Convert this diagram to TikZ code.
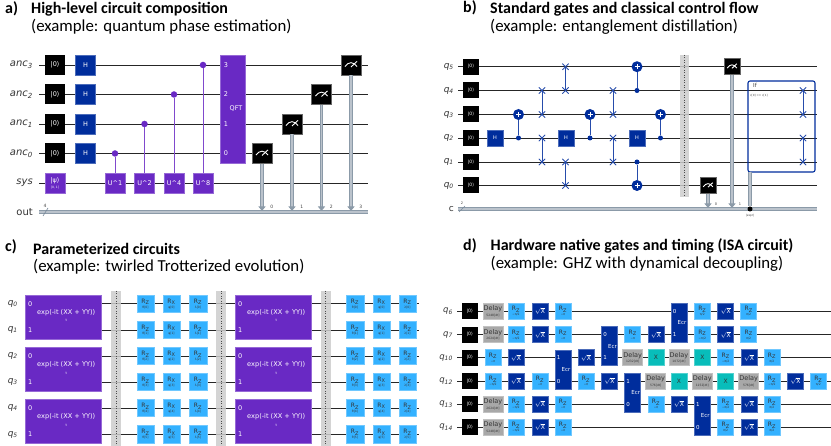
\documentclass[tikz,border=0pt]{standalone}
\usepackage{amsmath}
\usepackage{fontspec}
\setmainfont{DejaVu Sans}
\newfontfamily\titlefont{Carlito}
\usetikzlibrary{arrows.meta,shapes.misc}

\definecolor{qpurple}{HTML}{6929C4}
\definecolor{qnavy}{HTML}{002D9C}
\definecolor{qsky}{HTML}{33B1FF}
\definecolor{qteal}{HTML}{08BDBA}
\definecolor{qgrey}{HTML}{A8A8A8}
\definecolor{qclassic}{HTML}{778899}

\newcommand{\fsz}[1]{\fontsize{#1}{#1}\selectfont}
\newcommand{\rtext}[2]{R\textsubscript{#1}\\[-1pt]{\fsz{3}#2}}
\newcommand{\dtext}[1]{Delay\\[-1pt]{\fsz{3}#1[dt]}}
\newcommand{\sxtext}{$\sqrt{\text{X}}$}
\newcommand{\mpih}{−π/2}
\newcommand{\mpif}{−π}
\newcommand{\ppih}{π/2}

\tikzstyle{wire} = [draw=black!85, line width=0.8pt]
\tikzstyle{classic} = [draw=qclassic!85, line width=0.9pt, double=qclassic!50, double distance=1.4pt]
\tikzstyle{feed} = [classic, -{Triangle[width=7pt,length=4.5pt]}]
\tikzstyle{qlabel} = [anchor=east, inner sep=0pt, text=black!80]
\tikzstyle{tiny} = [inner sep=0pt, text=black!75]
\tikzstyle{title} = [anchor=west, inner sep=0pt, font=\titlefont\fsz{16}\bfseries]
\tikzstyle{subtitle} = [anchor=west, inner sep=0pt, font=\titlefont\fsz{16.8}]
\tikzstyle{gate} = [rectangle, inner sep=0pt, align=center, line width=0.5pt]
\tikzstyle{init} = [gate, fill=black, text=white]
\tikzstyle{navy} = [gate, fill=qnavy, draw=qnavy!70!white, text=white]
\tikzstyle{purple} = [gate, fill=qpurple, draw=qpurple!70!white, text=white]
\tikzstyle{sky} = [gate, fill=qsky, draw=qsky!70!white, text=black!80]
\tikzstyle{delay} = [gate, fill=qgrey, draw=qgrey!70!white, text=black!80]
\tikzstyle{teal} = [gate, fill=qteal, draw=qteal!70!white, text=black!80]
\tikzstyle{barrier} = [rectangle, inner sep=0pt, fill=black!20, fill opacity=0.85]
\tikzset{meter/.style={rectangle, inner sep=0pt, minimum size=#1, fill=black, draw=black!60, line width=0.4pt, path picture={
    \begin{scope}[shift={(path picture bounding box.center)}]
        \draw[white, line width=0.9pt] (-0.3*#1,0.08*#1) .. controls (-0.12*#1,-0.18*#1) and (0.12*#1,-0.18*#1) .. (0.3*#1,0.08*#1);
        \draw[white, line width=0.9pt] (0,0.1*#1) -- (0.3*#1,-0.18*#1);
    \end{scope}}}}
\tikzstyle{dot} = [circle, inner sep=0pt, minimum size=5pt, fill=qnavy]
\tikzstyle{target} = [circle, inner sep=0pt, minimum size=11pt, fill=qnavy, path picture={
    \draw[white, line width=0.9pt] ([yshift=-2.5pt]path picture bounding box.center) -- ([yshift=2.5pt]path picture bounding box.center);
    \draw[white, line width=0.9pt] ([xshift=-2.5pt]path picture bounding box.center) -- ([xshift=2.5pt]path picture bounding box.center);}]
\tikzstyle{swapx} = [cross out, draw=qnavy!85, line width=0.8pt, inner sep=0pt, minimum size=5.5pt]
\tikzstyle{bline} = [draw=qnavy!85, line width=0.8pt]
\tikzstyle{pline} = [draw=qpurple!85, line width=0.9pt]

\begin{document}
\begin{tikzpicture}[x=1pt,y=-1pt]
    \useasboundingbox (0,0) rectangle (831,446);

    % panel a
    \node (a-tag) [title] at (5,9) {a)};
    \node (a-title) [title] at (31,9) {High-level circuit composition};
    \node (a-sub) [subtitle] at (31,27) {(example: quantum phase estimation)};

    \foreach \n/\y/\t in {3/65/anc\textsubscript{3}, 2/94.5/anc\textsubscript{2}, 1/124/anc\textsubscript{1}, 0/153.5/anc\textsubscript{0}, 4/183/sys} {
        \coordinate (a-l\n) at (39,\y);
        \coordinate (a-r\n) at (368,\y);
        \draw[wire] (a-l\n) -- (a-r\n);
        \node (a-lab\n) [qlabel, font=\fsz{10}\itshape] at (33,\y) {\t};
    }
    \coordinate (a-outl) at (39,212);
    \coordinate (a-outr) at (368,212);
    \draw[classic] (a-outl) -- (a-outr);
    \node (a-out) [qlabel, font=\fsz{10}] at (33,212) {out};
    \coordinate (a-sa) at (43,216);
    \coordinate (a-sb) at (48,208);
    \draw[draw=qclassic, line width=0.6pt] (a-sa) -- (a-sb);
    \node (a-four) [tiny, font=\fsz{4.5}] at (45,206) {4};

    \foreach \n/\y in {3/65, 2/94.5, 1/124, 0/153.5} {
        \node (a-i\n) [init, minimum size=20pt, font=\fsz{6.5}] at (55,\y) {|0⟩};
        \node (a-h\n) [navy, minimum size=20pt, font=\fsz{6.5}] at (85.5,\y) {H};
    }
    \node (a-psi) [purple, minimum size=20pt, font=\fsz{6.5}] at (55,183) {|ψ⟩\\[-1pt]{\fsz{3}[0, 1]}};

    \foreach \n/\x/\y/\t in {0/115/153.5/1, 1/144.5/124/2, 2/174/94.5/4, 3/203/65/8} {
        \node (a-u\n) [purple, minimum size=20pt, font=\fsz{6.5}] at (\x,183) {U\^{}\t};
        \node (a-c\n) [circle, inner sep=0pt, minimum size=6.5pt, fill=qpurple] at (\x,\y) {};
        \draw[pline] (a-c\n) -- (a-u\n);
    }

    \node (a-qft) [purple, minimum width=24.5pt, minimum height=108pt, font=\fsz{6.5}] at (232.7,109.5) {};
    \node (a-qftname) [inner sep=0pt, font=\fsz{6.5}, text=white] at (236,109) {QFT};
    \foreach \n/\y in {3/65, 2/94.5, 1/124, 0/153.5} {
        \node (a-q\n) [inner sep=0pt, font=\fsz{6.5}, text=white] at (226,\y) {\n};
    }

    \foreach \n/\x/\y in {0/262/153.5, 1/292/124, 2/321.5/94.5, 3/351/65} {
        \node (a-m\n) [meter=20] at (\x,\y) {};
        \coordinate (a-f\n) at (\x,211);
        \draw[feed] (a-m\n) -- (a-f\n);
        \node (a-b\n) [tiny, font=\fsz{4.5}] at (\x+9.7,206.5) {\n};
    }

    % panel b
    \node (b-tag) [title] at (463,8) {b)};
    \node (b-title) [title] at (490,9) {Standard gates and classical control flow};
    \node (b-sub) [subtitle] at (490,27) {(example: entanglement distillation)};

    \foreach \n/\y in {5/66.7, 4/90.5, 3/114.5, 2/138, 1/162, 0/185.5} {
        \coordinate (b-l\n) at (458,\y);
        \coordinate (b-r\n) at (817,\y);
        \draw[wire] (b-l\n) -- (b-r\n);
        \node (b-lab\n) [qlabel, font=\fsz{9}\itshape] at (454,\y) {q\textsubscript{\n}};
        \node (b-i\n) [init, minimum size=16pt, font=\fsz{4.5}] at (471,\y) {|0⟩};
    }
    \coordinate (b-cl) at (458,209);
    \coordinate (b-cr) at (817,209);
    \draw[classic] (b-cl) -- (b-cr);
    \node (b-c) [qlabel, font=\fsz{9}] at (454,209) {c};
    \coordinate (b-sa) at (459,212);
    \coordinate (b-sb) at (465,206);
    \draw[draw=qclassic, line width=0.6pt] (b-sa) -- (b-sb);
    \node (b-two) [tiny, font=\fsz{3.5}] at (462,203.5) {2};

    \foreach \n/\x in {1/495, 2/566, 3/637} {
        \node (b-h\n) [navy, minimum size=16pt, font=\fsz{5}] at (\x,138) {H};
    }
    \foreach \n/\x/\t/\c in {1/518.5/114.5/138, 2/590/114.5/138, 3/637/66.7/90.5, 4/637/185.5/162, 5/660.5/114.5/138} {
        \node (b-x\n) [target] at (\x,\t) {};
        \node (b-d\n) [dot] at (\x,\c) {};
        \draw[bline] (b-x\n) -- (b-d\n);
    }
    \foreach \n/\x/\s/\e in {1/542/90.5/114.5, 2/542/138/162, 3/565.5/66.7/90.5, 4/565.5/162/185.5, 5/613/90.5/114.5, 6/613/138/162, 7/803/90.5/114.5, 8/803/138/162} {
        \node (b-sa\n) [swapx] at (\x,\s) {};
        \node (b-sb\n) [swapx] at (\x,\e) {};
        \draw[bline] (b-sa\n.center) -- (b-sb\n.center);
    }

    \node (b-bar) [barrier, minimum width=9pt, minimum height=142pt] at (684.5,126) {};
    \draw[dotted, black!70, line width=0.5pt] (b-bar.north) -- (b-bar.south);

    \node (b-m0) [meter=16] at (708,185.5) {};
    \node (b-m1) [meter=16] at (732,66.7) {};
    \coordinate (b-f0) at (708,208);
    \coordinate (b-f1) at (732,208);
    \draw[feed] (b-m0) -- (b-f0);
    \draw[feed] (b-m1) -- (b-f1);
    \node (b-b0) [tiny, font=\fsz{3.5}] at (716,204) {0};
    \node (b-b1) [tiny, font=\fsz{3.5}] at (740,204) {1};

    \node (b-if) [rectangle, rounded corners=2pt, draw=qnavy, line width=1.1pt, minimum width=67pt, minimum height=91pt] at (781.5,126.5) {};
    \node (b-iftxt) [tiny, font=\fsz{5.5}] at (755,85.5) {If};
    \node (b-ifcond) [tiny, anchor=west, font=\fsz{2.8}] at (750,95.5) {c[0] == c[1]};
    \coordinate (b-foot) at (750,172);
    \node (b-dot) [circle, inner sep=0pt, minimum size=5pt, fill=black] at (750,209) {};
    \draw[classic] (b-foot) -- (b-dot);
    \node (b-expr) [tiny, font=\fsz{2.8}] at (750,215.5) {[expr]};

    % panel c
    \node (c-tag) [title] at (5,247) {c)};
    \node (c-title) [title] at (33,249) {Parameterized circuits};
    \node (c-sub) [subtitle] at (33,267) {(example: twirled Trotterized evolution)};

    \foreach \n/\y in {0/303.7, 1/330, 2/356, 3/382, 4/408, 5/434.5} {
        \coordinate (c-l\n) at (25,\y);
        \coordinate (c-r\n) at (419,\y);
        \draw[wire] (c-l\n) -- (c-r\n);
        \node (c-lab\n) [qlabel, font=\fsz{9}\itshape] at (18,\y) {q\textsubscript{\n}};
    }
    \foreach \k/\x in {1/63.25, 2/273.25} {
        \foreach \r/\y/\t/\b in {1/317/303.7/330, 2/369/356/382, 3/421.5/408/434.5} {
            \node (c-e\k\r) [purple, minimum width=75.5pt, minimum height=44pt] at (\x,\y) {};
            \node (c-ez\k\r) [inner sep=0pt, font=\fsz{6.5}, text=white] at (\x-33,\t) {0};
            \node (c-eo\k\r) [inner sep=0pt, font=\fsz{6.5}, text=white] at (\x-33,\b) {1};
            \node (c-et\k\r) [inner sep=0pt, font=\fsz{6.6}, text=white] at (\x+3,\t+8.7) {exp(-it (XX + YY))};
            \node (c-es\k\r) [inner sep=0pt, font=\fsz{3.5}, text=white] at (\x+3,\t+17) {t};
        }
    }
    \foreach \k/\x in {1/116, 2/221, 3/325.5} {
        \node (c-bar\k) [barrier, minimum width=10pt, minimum height=155pt] at (\x,368.5) {};
        \draw[dotted, black!70, line width=0.5pt] (c-bar\k.north) -- (c-bar\k.south);
    }
    \foreach \k/\xa/\xb/\xc in {1/145.5/171.5/198, 2/355/381.5/407.5} {
        \foreach \n/\y in {0/303.7, 1/330, 2/356, 3/382, 4/408, 5/434.5} {
            \node (c-ra\k\n) [sky, minimum size=17.5pt, font=\fsz{6}] at (\xa,\y) {\rtext{Z}{θ[\n]}};
            \node (c-rb\k\n) [sky, minimum size=17.5pt, font=\fsz{6}] at (\xb,\y) {\rtext{X}{φ[\n]}};
            \node (c-rc\k\n) [sky, minimum size=17.5pt, font=\fsz{6}] at (\xc,\y) {\rtext{Z}{λ[\n]}};
        }
    }

    % panel d
    \node (d-tag) [title] at (463,246) {d)};
    \node (d-title) [title] at (490.5,246) {Hardware native gates and timing (ISA circuit)};
    \node (d-sub) [subtitle] at (490.5,264) {(example: GHZ with dynamical decoupling)};

    \foreach \n/\y in {6/311, 7/334.7, 10/357.7, 12/381, 13/404, 14/427.3} {
        \coordinate (d-l\n) at (457,\y);
        \coordinate (d-r\n) at (831,\y);
        \draw[wire] (d-l\n) -- (d-r\n);
        \node (d-lab\n) [qlabel, font=\fsz{8.5}\itshape] at (453,\y) {q\textsubscript{\n}};
        \node (d-i\n) [init, minimum size=16pt, font=\fsz{4.5}] at (469.7,\y) {|0⟩};
    }
    \foreach \n/\x/\y/\t in {1/493/311/5248, 2/493/334.7/2624, 3/493/404/2624, 4/493/427.3/5248, 5/632.7/357.7/1232, 6/679/357.7/1072, 7/655.7/381/576, 8/702.3/381/1152, 9/748.7/381/576} {
        \node (d-dl\n) [delay, minimum width=20pt, minimum height=16pt, font=\fsz{6.5}] at (\x,\y) {\dtext{\t}};
    }
    \foreach \n/\x/\y/\t in {1/516/311/\mpih, 2/563/311/\mpif, 3/516/334.7/\mpih, 4/563/334.7/\mpif, 5/493/357.7/\mpif, 6/493/381/\mpih, 7/540/381/\mpif, 8/586/381/\mpif, 9/516/404/\mpih, 10/563/404/\mpif, 11/516/427.3/\mpih, 12/563/427.3/\mpif, 13/632.7/334.7/\mpif, 14/702.3/311/\ppih, 15/748.7/311/\ppih, 16/702.3/334.7/\mpih, 17/748.7/334.7/\ppih, 18/725.7/357.7/\mpih, 19/772/357.7/\ppih, 20/772/381/\mpih, 21/818.3/381/\ppih, 22/656/404/\mpif, 23/725.7/404/\mpih, 24/772/404/\ppih, 25/725.7/427.3/\ppih, 26/772/427.3/\ppih} {
        \node (d-rz\n) [sky, minimum size=16pt, font=\fsz{6}] at (\x,\y) {\rtext{Z}{\t}};
    }
    \foreach \n/\x/\y in {1/540/311, 2/540/334.7, 3/516/357.7, 4/516/381, 5/540/404, 6/540/427.3, 7/586/357.7, 8/609.5/381, 9/656/334.7, 10/725.7/311, 11/725.7/334.7, 12/749/357.7, 13/795.3/381, 14/679/404, 15/749/404, 16/749/427.3} {
        \node (d-sx\n) [navy, minimum size=16pt, font=\fsz{6}] at (\x,\y) {\sxtext};
    }
    \foreach \n/\x/\y in {1/656/357.7, 2/702.3/357.7, 3/679/381, 4/725.7/381} {
        \node (d-xg\n) [teal, minimum size=16pt, font=\fsz{6}] at (\x,\y) {X};
    }
    \foreach \n/\x/\t/\b/\a/\c in {1/563/357.7/381/1/0, 2/609.5/334.7/357.7/0/1, 3/632.7/381/404/1/0, 4/679/311/334.7/0/1, 5/702.3/404/427.3/1/0} {
        \node (d-ecr\n) [navy, minimum width=16pt, minimum height=39pt] at (\x,{(\t+\b)/2}) {};
        \node (d-en\n) [inner sep=0pt, font=\fsz{5.5}, text=white] at (\x+3,{(\t+\b)/2}) {Ecr};
        \node (d-ea\n) [inner sep=0pt, font=\fsz{5.5}, text=white] at (\x-4.5,\t) {\a};
        \node (d-eb\n) [inner sep=0pt, font=\fsz{5.5}, text=white] at (\x-4.5,\b) {\c};
    }

\end{tikzpicture}
\end{document}
